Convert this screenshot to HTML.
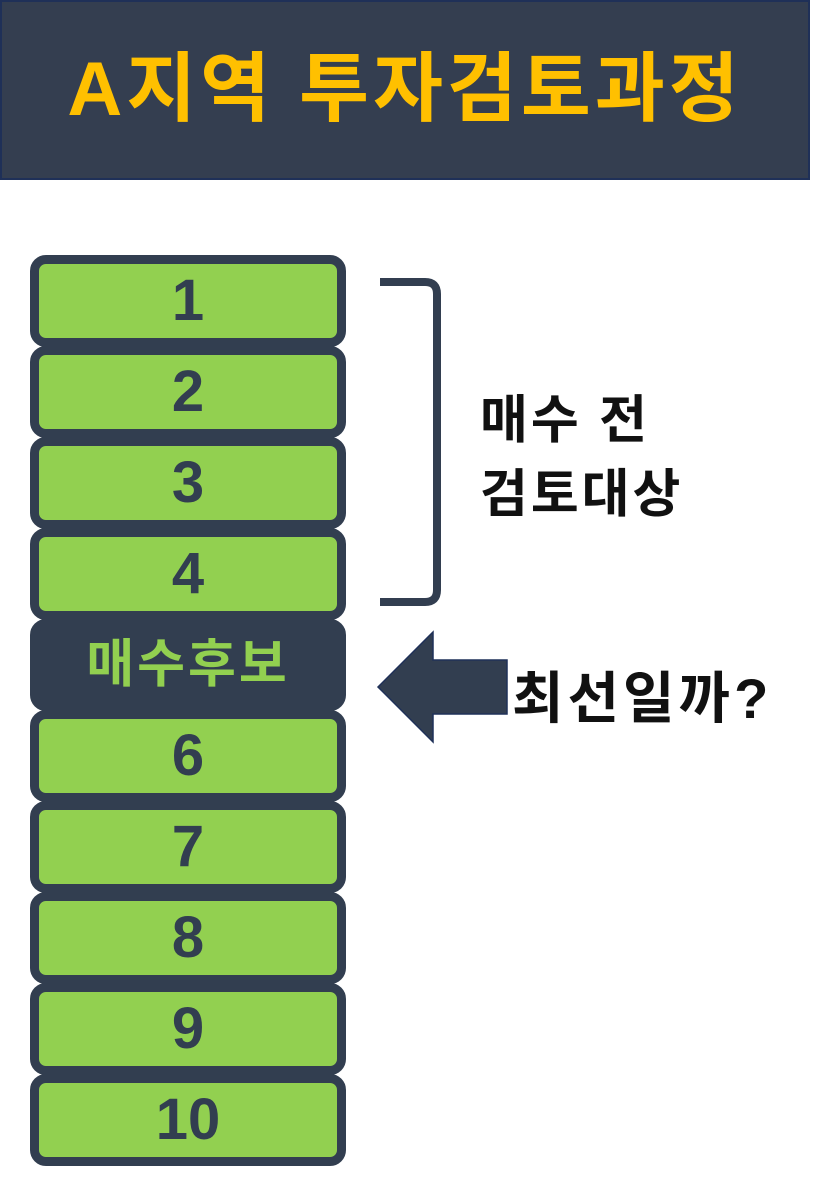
<!DOCTYPE html>
<html><head><meta charset="utf-8"><style>
body{margin:0;width:827px;height:1202px;background:#fff;position:relative;overflow:hidden;font-family:"Liberation Sans","Noto Sans CJK KR",sans-serif;}
.hdr{position:absolute;left:0;top:0;width:806px;height:176px;background:#343e50;border:2px solid #1f3058;}
.ttl{position:absolute;left:0;top:0;width:810px;height:180px;line-height:180px;text-align:center;color:#ffc000;font-weight:bold;font-size:76px;letter-spacing:4px;}
.b{position:absolute;left:30px;width:298px;height:74px;border:9px solid #323e50;border-radius:16px;background:#92d050;text-align:center;line-height:74px;font-size:58px;font-weight:bold;color:#323e50;}
.b.d{background:#323e50;color:#92d050;font-size:52px;letter-spacing:3px;}
.t{position:absolute;font-weight:bold;color:#111;font-size:52px;letter-spacing:3px;}
</style></head><body>
<div class="hdr"></div>
<div class="ttl">A지역 투자검토과정</div>
<div class="b" style="top:255px">1</div>
<div class="b" style="top:346px">2</div>
<div class="b" style="top:437px">3</div>
<div class="b" style="top:528px">4</div>
<div class="b d" style="top:619px">매수후보</div>
<div class="b" style="top:710px">6</div>
<div class="b" style="top:801px">7</div>
<div class="b" style="top:892px">8</div>
<div class="b" style="top:983px">9</div>
<div class="b" style="top:1074px">10</div>
<svg width="827" height="1202" style="position:absolute;left:0;top:0">
<path d="M380 282 H425 Q437 282 437 294 V590 Q437 602 425 602 H380" fill="none" stroke="#323e50" stroke-width="8"/>
<polygon points="378,687 433,632 433,660 507,660 507,714 433,714 433,742" fill="#323e50" stroke="#1f3058" stroke-width="1.5"/>
</svg>
<div class="t" style="left:480px;top:378px">매수 전</div>
<div class="t" style="left:480px;top:452px">검토대상</div>
<div class="t" style="left:512px;top:654px;font-size:56px;letter-spacing:4px">최선일까?</div>
</body></html>
